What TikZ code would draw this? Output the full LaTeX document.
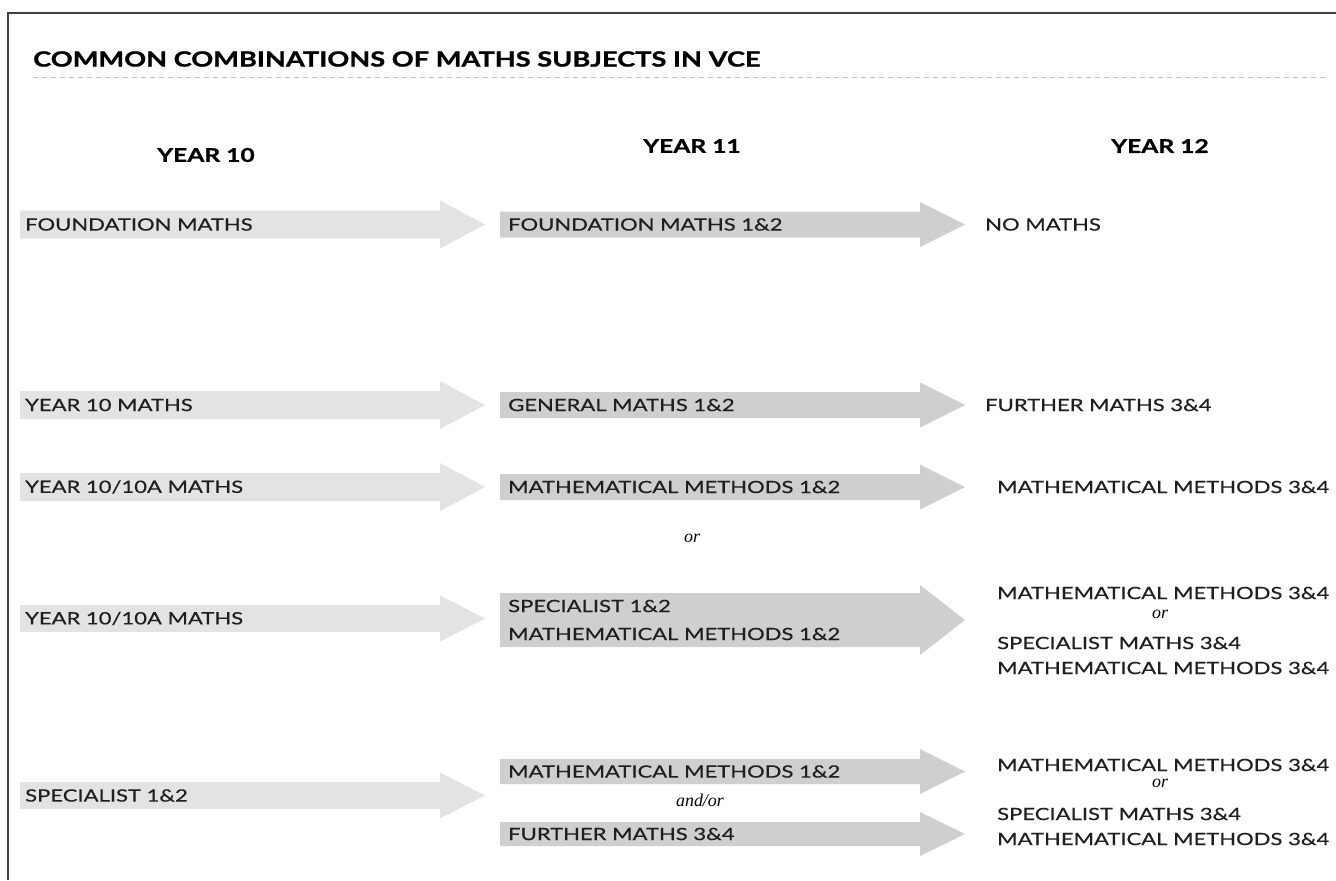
\documentclass[tikz,border=0pt]{standalone}
\usepackage{fontspec}
\setmainfont{Lato}[FakeStretch=1.3]
\newfontfamily\serifit{Liberation Serif}
\newcommand\mybararrow[5]{%
  \fill[#1] (#2,#3-#4) -- (#2+420,#3-#4) -- (#2+420,#3-#5) -- (#2+465,#3)
    -- (#2+420,#3+#5) -- (#2+420,#3+#4) -- (#2,#3+#4) -- cycle;}
\begin{document}
\begin{tikzpicture}[x=1bp,y=-1bp,
  lbl/.style={anchor=west, inner sep=0pt, font=\fontsize{17}{19}\selectfont\addfontfeature{FakeBold=0.5}, text=black!88},
  hdr/.style={inner sep=0pt, font=\bfseries\fontsize{19}{22}\selectfont\addfontfeature{FakeBold=1}},
  ttl/.style={anchor=west, inner sep=0pt, font=\bfseries\fontsize{21}{24}\selectfont\addfontfeature{FakeBold=1.2}},
  orlbl/.style={inner sep=0pt, font=\serifit\itshape\fontsize{18}{19}\selectfont},
  lightbar/.style={fill=black!11},
  darkbar/.style={fill=black!19}]
\useasboundingbox (0,0) rectangle (1336,880);
% frame
\draw[line width=2bp, black!75] (8,880) -- (8,13) -- (1336,13);
% title
\node[ttl] (title) at (33,59) {COMMON COMBINATIONS OF MATHS SUBJECTS IN VCE};
\coordinate (dl) at (33,77);
\coordinate (dr) at (1325,77);
\draw[black!25, dash pattern=on 5bp off 4bp, line width=1bp] (dl) -- (dr);
% headers
\node[hdr] (h10) at (206,155) {YEAR 10};
\node[hdr] (h11) at (692,146) {YEAR 11};
\node[hdr] (h12) at (1160,146) {YEAR 12};
% arrows
\mybararrow{lightbar}{20}{224.5}{14}{24}
\mybararrow{darkbar}{500}{224.5}{13}{22.5}
\mybararrow{lightbar}{20}{405}{14}{24}
\mybararrow{darkbar}{500}{405}{13}{22.5}
\mybararrow{lightbar}{20}{487}{14}{24}
\mybararrow{darkbar}{500}{487}{13}{22.5}
\mybararrow{lightbar}{20}{618.5}{13.5}{23}
\mybararrow{darkbar}{500}{620}{27}{35}
\mybararrow{lightbar}{20}{795.5}{13.5}{23}
\mybararrow{darkbar}{500}{771.5}{12.5}{22.5}
\mybararrow{darkbar}{500}{834}{12}{22}
% row 1
\node[lbl] (a1) at (25,224.5) {FOUNDATION MATHS};
\node[lbl] (b1) at (508,224.5) {FOUNDATION MATHS 1\&2};
\node[lbl] (c1) at (985,224.5) {NO MATHS};
% row 2
\node[lbl] (a2) at (25,405) {YEAR 10 MATHS};
\node[lbl] (b2) at (508,405) {GENERAL MATHS 1\&2};
\node[lbl] (c2) at (985,405) {FURTHER MATHS 3\&4};
% row 3
\node[lbl] (a3) at (25,487) {YEAR 10/10A MATHS};
\node[lbl] (b3) at (508,487) {MATHEMATICAL METHODS 1\&2};
\node[lbl] (c3) at (997,487) {MATHEMATICAL METHODS 3\&4};
\node[orlbl] (or1) at (692,538) {or};
% row 4
\node[lbl] (a4) at (25,618.5) {YEAR 10/10A MATHS};
\node[lbl] (b4a) at (508,606) {SPECIALIST 1\&2};
\node[lbl] (b4b) at (508,634) {MATHEMATICAL METHODS 1\&2};
\node[lbl] (c4a) at (997,593) {MATHEMATICAL METHODS 3\&4};
\node[orlbl] (or2) at (1160,614) {or};
\node[lbl] (c4b) at (997,643) {SPECIALIST MATHS 3\&4};
\node[lbl] (c4c) at (997,668) {MATHEMATICAL METHODS 3\&4};
% row 5
\node[lbl] (a5) at (25,795.5) {SPECIALIST 1\&2};
\node[lbl] (b5a) at (508,771.5) {MATHEMATICAL METHODS 1\&2};
\node[orlbl] (andor) at (700,800) {and/or};
\node[lbl] (b5b) at (508,834) {FURTHER MATHS 3\&4};
\node[lbl] (c5a) at (997,765) {MATHEMATICAL METHODS 3\&4};
\node[orlbl] (or3) at (1160,783) {or};
\node[lbl] (c5b) at (997,814) {SPECIALIST MATHS 3\&4};
\node[lbl] (c5c) at (997,839) {MATHEMATICAL METHODS 3\&4};
\end{tikzpicture}
\end{document}
